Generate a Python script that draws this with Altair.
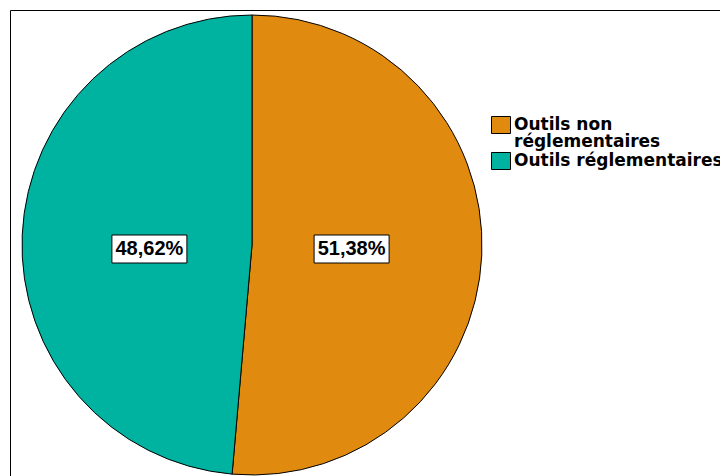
import altair as alt
import pandas as pd

categories = ["Outils non réglementaires", "Outils réglementaires"]
values = [51.38, 48.62]
labels = ["51,38%", "48,62%"]
colors = ["#E08A10", "#00B2A0"]
order = [0, 1]

# layout constants (pixels)
W, H = 710, 466
CX, CY, R = 242, 235, 230
LABEL_R = 0.44

df = pd.DataFrame({"cat": categories, "val": values, "lab": labels,
                   "order": order, "c0": [0, 0]})

xs = alt.Scale(domain=[-CX / R, (W - CX) / R], nice=False, zero=False)
ys = alt.Scale(domain=[-(H - CY) / R, CY / R], nice=False, zero=False)

color = alt.Color(
    "cat:N",
    scale=alt.Scale(domain=categories, range=colors),
    legend=alt.Legend(
        title=None,
        orient="none",
        legendX=481,
        legendY=105,
        symbolType="M-1,-0.895H1V0.895H-1Z",
        symbolSize=361,
        symbolStrokeColor="black",
        symbolStrokeWidth=1,
        symbolOpacity=1,
        labelFont="DejaVu Sans",
        labelFontSize=17,
        labelFontWeight="bold",
        labelColor="black",
        labelLimit=400,
        labelOffset=3,
        rowPadding=0,
        labelExpr="datum.label == 'Outils non réglementaires' ? ['Outils non', 'réglementaires'] : datum.label",
    ),
)

base = alt.Chart(df)

pie = base.mark_arc(outerRadius=R, stroke="black", strokeWidth=1).encode(
    theta=alt.Theta("val:Q", stack=True),
    color=color,
    order=alt.Order("order:Q"),
    x=alt.X("c0:Q", scale=xs, axis=None),
    y=alt.Y("c0:Q", scale=ys, axis=None),
)

lab_base = base.transform_joinaggregate(total="sum(val)").transform_window(
    cum="sum(val)", sort=[alt.SortField("order")]
).transform_calculate(
    mid="(datum.cum - datum.val / 2) / datum.total * 2 * PI",
    lx=f"{LABEL_R} * sin(datum.mid)",
    ly="0",
)

boxes = lab_base.mark_rect(
    fill="white", stroke="black", strokeWidth=1,
    xOffset=-39, x2Offset=36, yOffset=-10, y2Offset=18,
).encode(
    x=alt.X("lx:Q", scale=xs, axis=None),
    x2="lx:Q",
    y=alt.Y("ly:Q", scale=ys, axis=None),
    y2="ly:Q",
)

texts = lab_base.mark_text(
    font="Liberation Sans", fontSize=20, fontWeight="bold",
    color="black", baseline="middle", align="center", dy=4, dx=-1.5,
).encode(
    x=alt.X("lx:Q", scale=xs, axis=None),
    y=alt.Y("ly:Q", scale=ys, axis=None),
    text="lab:N",
)

chart = alt.layer(pie, boxes, texts).properties(
    width=W, height=H,
    padding={"left": 10, "top": 10, "right": 0, "bottom": 0},
    autosize=alt.AutoSizeParams(type="none"),
    background="white",
).configure(
    style={"guide-label": {"lineHeight": 17}}
).configure_view(
    stroke="black", strokeWidth=1
)

chart.save("out.html", embed_options={"renderer": "svg", "actions": False})
